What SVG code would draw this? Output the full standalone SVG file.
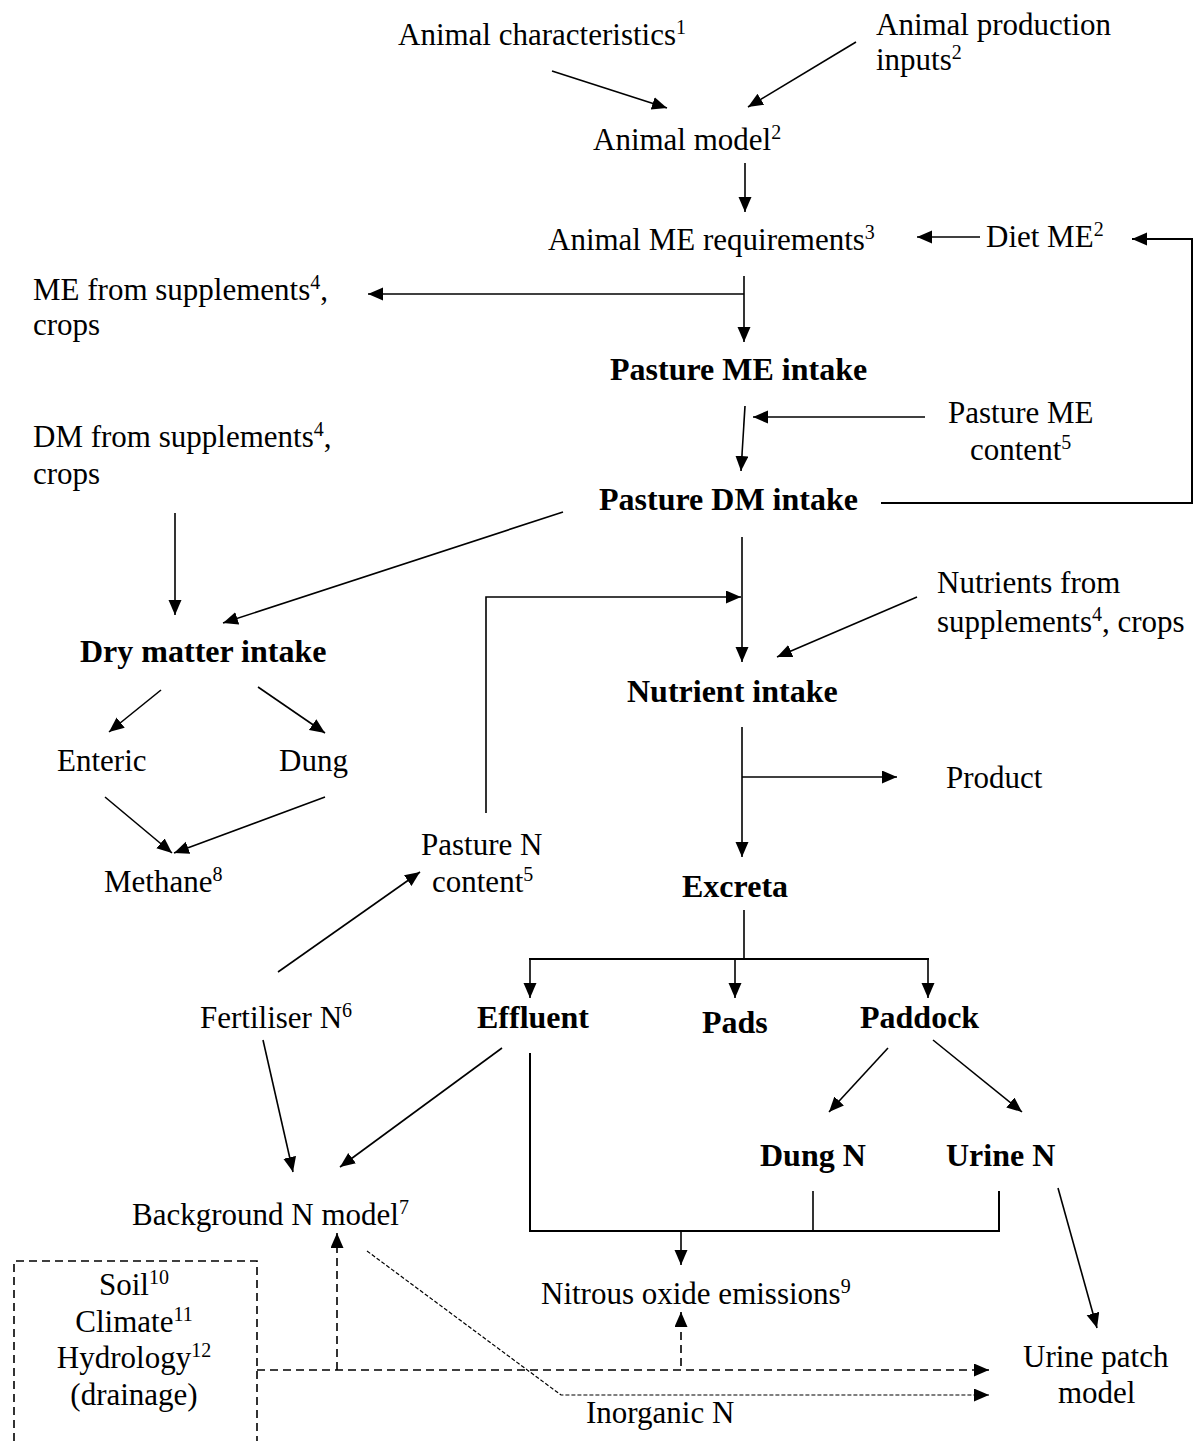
<svg xmlns="http://www.w3.org/2000/svg" width="1196" height="1441" viewBox="0 0 1196 1441">
<style>
text{font-family:"Liberation Serif","Times New Roman",serif;font-size:31px;fill:#000}
.b{font-weight:bold;font-size:32px}
.sup{font-size:20px}
.c{text-anchor:middle}
.ln{fill:none;stroke:#000;stroke-width:1.6}
.thk{stroke-width:2}
.dsh{fill:none;stroke:#000;stroke-width:1.6;stroke-dasharray:8 5}
.fdsh{fill:none;stroke:#000;stroke-width:1.2;stroke-dasharray:4 2}
</style>
<defs>
<marker id="ah" markerWidth="16" markerHeight="14" refX="15" refY="6.5" orient="auto" markerUnits="userSpaceOnUse"><path d="M0,0 L15,6.5 L0,13 z" fill="#000"/></marker>
</defs>
<rect width="1196" height="1441" fill="#fff"/>
<g id="connectors">
<line class="ln" x1="552" y1="71" x2="667" y2="108" marker-end="url(#ah)"/>
<line class="ln" x1="856" y1="42" x2="748" y2="107" marker-end="url(#ah)"/>
<line class="ln" x1="745" y1="163" x2="745" y2="212" marker-end="url(#ah)"/>
<line class="ln" x1="980" y1="237" x2="917" y2="237" marker-end="url(#ah)"/>
<polyline class="ln thk" points="881,503 1192,503 1192,239 1132,239" marker-end="url(#ah)"/>
<line class="ln" x1="744" y1="276" x2="744" y2="342" marker-end="url(#ah)"/>
<line class="ln" x1="744" y1="294" x2="368" y2="294" marker-end="url(#ah)"/>
<line class="ln" x1="925" y1="417" x2="753" y2="417" marker-end="url(#ah)"/>
<line class="ln" x1="745" y1="406" x2="741" y2="471" marker-end="url(#ah)"/>
<line class="ln" x1="175" y1="513" x2="175" y2="615" marker-end="url(#ah)"/>
<line class="ln" x1="563" y1="512" x2="223" y2="623" marker-end="url(#ah)"/>
<line class="ln" x1="742" y1="537" x2="742" y2="662" marker-end="url(#ah)"/>
<polyline class="ln" points="486,813 486,597 741,597" marker-end="url(#ah)"/>
<line class="ln" x1="917" y1="597" x2="777" y2="657" marker-end="url(#ah)"/>
<line class="ln" x1="161" y1="690" x2="109" y2="732" marker-end="url(#ah)"/>
<line class="ln" x1="258" y1="687" x2="325" y2="733" marker-end="url(#ah)"/>
<line class="ln" x1="105" y1="797" x2="172" y2="853" marker-end="url(#ah)"/>
<line class="ln" x1="325" y1="797" x2="174" y2="853" marker-end="url(#ah)"/>
<line class="ln" x1="742" y1="727" x2="742" y2="857" marker-end="url(#ah)"/>
<line class="ln" x1="742" y1="777" x2="897" y2="777" marker-end="url(#ah)"/>
<line class="ln" x1="278" y1="972" x2="420" y2="872" marker-end="url(#ah)"/>
<line class="ln" x1="744" y1="910" x2="744" y2="959"/>
<line class="ln thk" x1="529" y1="959" x2="929" y2="959"/>
<line class="ln" x1="530" y1="959" x2="530" y2="998" marker-end="url(#ah)"/>
<line class="ln" x1="735" y1="959" x2="735" y2="998" marker-end="url(#ah)"/>
<line class="ln" x1="928" y1="959" x2="928" y2="998" marker-end="url(#ah)"/>
<line class="ln" x1="263" y1="1040" x2="293" y2="1172" marker-end="url(#ah)"/>
<line class="ln" x1="502" y1="1048" x2="340" y2="1167" marker-end="url(#ah)"/>
<line class="ln" x1="888" y1="1048" x2="829" y2="1112" marker-end="url(#ah)"/>
<line class="ln" x1="933" y1="1040" x2="1022" y2="1112" marker-end="url(#ah)"/>
<polyline class="ln thk" points="530,1053 530,1231 999,1231 999,1191"/>
<line class="ln" x1="813" y1="1191" x2="813" y2="1231"/>
<line class="ln" x1="681" y1="1231" x2="681" y2="1265" marker-end="url(#ah)"/>
<line class="ln" x1="1058" y1="1188" x2="1097" y2="1328" marker-end="url(#ah)"/>
<path class="dsh" d="M14,1441 V1261 H257 V1441"/>
<line class="dsh" x1="257" y1="1370" x2="989" y2="1370" marker-end="url(#ah)"/>
<line class="dsh" x1="337" y1="1370" x2="337" y2="1233" marker-end="url(#ah)"/>
<line class="dsh" x1="681" y1="1366" x2="681" y2="1312" marker-end="url(#ah)"/>
<polyline class="fdsh" points="367,1251 561,1395 989,1395" marker-end="url(#ah)"/>
</g>
<g id="n-animal-characteristics"><text x="398" y="45">Animal characteristics<tspan class="sup" dy="-11">1</tspan></text></g>
<g id="n-animal-production-inputs"><text x="876" y="35">Animal production</text><text x="876" y="70">inputs<tspan class="sup" dy="-11">2</tspan></text></g>
<g id="n-animal-model"><text x="593" y="150">Animal model<tspan class="sup" dy="-11">2</tspan></text></g>
<g id="n-animal-me-req"><text x="548" y="250">Animal ME requirements<tspan class="sup" dy="-11">3</tspan></text></g>
<g id="n-diet-me"><text x="986" y="247">Diet ME<tspan class="sup" dy="-11">2</tspan></text></g>
<g id="n-me-supplements"><text x="33" y="300">ME from supplements<tspan class="sup" dy="-11">4</tspan><tspan dy="11">,</tspan></text><text x="33" y="335">crops</text></g>
<g id="n-pasture-me-intake"><text class="b" x="610" y="380">Pasture ME intake</text></g>
<g id="n-pasture-me-content"><text x="948" y="423">Pasture ME</text><text x="970" y="460">content<tspan class="sup" dy="-11">5</tspan></text></g>
<g id="n-dm-supplements"><text x="33" y="447">DM from supplements<tspan class="sup" dy="-11">4</tspan><tspan dy="11">,</tspan></text><text x="33" y="484">crops</text></g>
<g id="n-pasture-dm-intake"><text class="b" x="599" y="510">Pasture DM intake</text></g>
<g id="n-nutrients-supplements"><text x="937" y="593">Nutrients from</text><text x="937" y="632">supplements<tspan class="sup" dy="-11">4</tspan><tspan dy="11">, crops</tspan></text></g>
<g id="n-dry-matter-intake"><text class="b" x="80" y="662">Dry matter intake</text></g>
<g id="n-nutrient-intake"><text class="b" x="627" y="702">Nutrient intake</text></g>
<g id="n-enteric"><text x="57" y="771">Enteric</text></g>
<g id="n-dung"><text x="279" y="771">Dung</text></g>
<g id="n-product"><text x="946" y="788">Product</text></g>
<g id="n-methane"><text x="104" y="892">Methane<tspan class="sup" dy="-11">8</tspan></text></g>
<g id="n-pasture-n-content"><text x="421" y="855">Pasture N</text><text x="432" y="892">content<tspan class="sup" dy="-11">5</tspan></text></g>
<g id="n-excreta"><text class="b" x="682" y="897">Excreta</text></g>
<g id="n-fertiliser-n"><text x="200" y="1028">Fertiliser N<tspan class="sup" dy="-11">6</tspan></text></g>
<g id="n-effluent"><text class="b" x="477" y="1028">Effluent</text></g>
<g id="n-pads"><text class="b" x="702" y="1033">Pads</text></g>
<g id="n-paddock"><text class="b" x="860" y="1028">Paddock</text></g>
<g id="n-dung-n"><text class="b" x="760" y="1166">Dung N</text></g>
<g id="n-urine-n"><text class="b" x="946" y="1166">Urine N</text></g>
<g id="n-background-n-model"><text x="132" y="1225">Background N model<tspan class="sup" dy="-11">7</tspan></text></g>
<g id="n-soil-climate"><text class="c" x="134" y="1295">Soil<tspan class="sup" dy="-11">10</tspan></text><text class="c" x="134" y="1332">Climate<tspan class="sup" dy="-11">11</tspan></text><text class="c" x="134" y="1368">Hydrology<tspan class="sup" dy="-11">12</tspan></text><text class="c" x="134" y="1405">(drainage)</text></g>
<g id="n-nitrous-oxide"><text x="541" y="1304">Nitrous oxide emissions<tspan class="sup" dy="-11">9</tspan></text></g>
<g id="n-urine-patch-model"><text x="1023" y="1367">Urine patch</text><text x="1058" y="1403">model</text></g>
<g id="n-inorganic-n"><text x="586" y="1423">Inorganic N</text></g>
</svg>
